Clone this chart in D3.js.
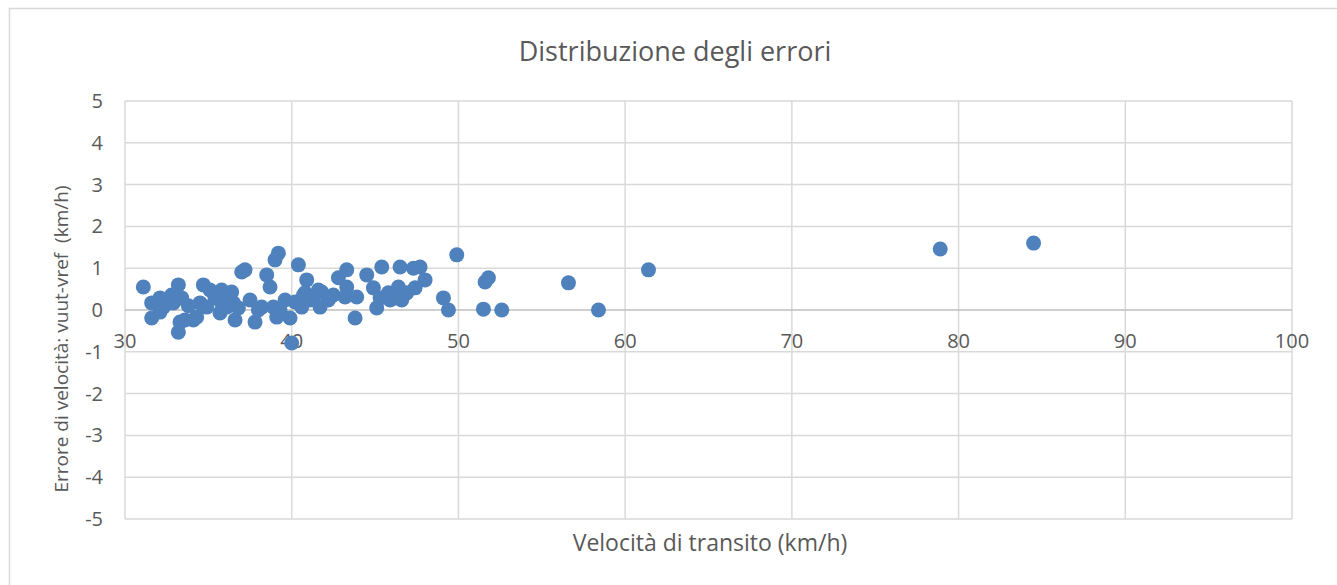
<!DOCTYPE html>
<html>
<head>
<meta charset="utf-8">
<script src="https://cdn.jsdelivr.net/npm/d3@7"></script>
<style>
  body { margin: 0; background: #fff; }
  text { font-family: "Open Sans", sans-serif; fill: #595959; }
</style>
</head>
<body>
<div id="chart"></div>
<script>
// speeds (km/h)
var speed = [31.1, 31.6, 31.6, 32.1, 32.1, 32.3, 32.6, 32.8, 32.9, 33.2, 33.4, 33.3, 33.2, 33.6, 34.1,
  34.3, 34.5, 34.7, 34.9, 35.1, 35.4, 35.7, 35.7, 35.8, 35.8, 36.2, 36.1, 36.5, 36.6, 37.0,
  37.2, 37.5, 37.8, 38.2, 38.5, 38.7, 39.0, 39.2, 38.9, 39.1, 39.3, 39.9, 40.0, 40.2, 40.4,
  40.7, 40.9, 40.8, 40.6, 41.3, 41.8, 41.7, 42.2, 42.8, 43.3, 43.3, 43.2, 43.9, 43.8, 44.5,
  44.9, 45.1, 45.4, 45.8, 45.9, 46.5, 47.3, 47.7, 48.0, 47.4, 46.9, 46.4, 46.0, 46.6, 46.2,
  49.1, 49.4, 49.9, 51.5, 51.6, 51.8, 52.6, 56.6, 58.4, 61.4, 78.9, 84.5,
  33.8, 36.4, 36.8, 38.0, 39.6, 41.1, 41.6, 42.5, 45.3];
// errors vuut - vref (km/h)
var error = [0.55, 0.17, -0.19, 0.29, -0.05, 0.07, 0.17, 0.36, 0.17, 0.60, 0.29, -0.29, -0.53, -0.24, -0.24,
  -0.17, 0.17, 0.60, 0.07, 0.48, 0.29, -0.07, 0.41, 0.17, 0.48, 0.31, 0.07, 0.17, -0.24, 0.91,
  0.96, 0.24, -0.29, 0.07, 0.84, 0.55, 1.20, 1.36, 0.07, -0.17, 0.00, -0.19, -0.79, 0.19, 1.08,
  0.36, 0.72, 0.41, 0.07, 0.29, 0.43, 0.07, 0.24, 0.77, 0.96, 0.55, 0.31, 0.31, -0.19, 0.84,
  0.53, 0.05, 1.03, 0.41, 0.24, 1.03, 1.00, 1.03, 0.72, 0.53, 0.41, 0.55, 0.36, 0.24, 0.29,
  0.29, 0.00, 1.32, 0.02, 0.67, 0.77, 0.00, 0.65, 0.00, 0.96, 1.46, 1.60,
  0.10, 0.43, 0.05, 0.00, 0.24, 0.24, 0.48, 0.36, 0.29];

var xTicks = [30, 40, 50, 60, 70, 80, 90, 100];
var yTicks = [5, 4, 3, 2, 1, 0, -1, -2, -3, -4, -5];

var svgWidth = 1337;
var svgHeight = 585;
var margin = { top: 101, right: 45, bottom: 66, left: 125 };
var width = svgWidth - margin.left - margin.right;
var height = svgHeight - margin.top - margin.bottom;

var svg = d3.select("#chart")
    .append("svg")
    .attr("width", svgWidth)
    .attr("height", svgHeight);

// chart border
svg.append("rect")
    .attr("x", 9.5).attr("y", 8.5)
    .attr("width", svgWidth).attr("height", svgHeight)
    .attr("fill", "none")
    .attr("stroke", "#d9d9d9")
    .attr("stroke-width", 1.5);

var chartGroup = svg.append("g")
    .attr("transform", `translate(${margin.left}, ${margin.top})`);

var xScale = d3.scaleLinear().domain([30, 100]).range([0, width]);
var yScale = d3.scaleLinear().domain([-5, 5]).range([height, 0]);

// gridlines
chartGroup.append("g")
    .selectAll("line")
    .data(xTicks)
    .enter()
    .append("line")
    .attr("x1", d => xScale(d)).attr("x2", d => xScale(d))
    .attr("y1", 0).attr("y2", height)
    .attr("stroke", "#d9d9d9")
    .attr("stroke-width", 1.5);

chartGroup.append("g")
    .selectAll("line")
    .data(yTicks)
    .enter()
    .append("line")
    .attr("x1", 0).attr("x2", width)
    .attr("y1", d => yScale(d)).attr("y2", d => yScale(d))
    .attr("stroke", d => d === 0 ? "#bfbfbf" : "#d9d9d9")
    .attr("stroke-width", 1.5);

// y tick labels
chartGroup.append("g")
    .selectAll("text")
    .data(yTicks)
    .enter()
    .append("text")
    .attr("x", -22)
    .attr("y", d => yScale(d))
    .attr("dy", "0.35em")
    .attr("text-anchor", "end")
    .attr("font-size", "20px")
    .text(d => d);

// x tick labels sit under the zero line
chartGroup.append("g")
    .selectAll("text")
    .data(xTicks)
    .enter()
    .append("text")
    .attr("x", d => xScale(d))
    .attr("y", yScale(0) + 38)
    .attr("text-anchor", "middle")
    .attr("font-size", "20px")
    .text(d => d);

// points
chartGroup.append("g")
    .selectAll("circle")
    .data(speed.map((s, i) => ({ s: s, e: error[i] })))
    .enter()
    .append("circle")
    .attr("cx", d => xScale(d.s))
    .attr("cy", d => yScale(d.e))
    .attr("r", 7.5)
    .attr("fill", "#4f81bd");

// title
svg.append("text")
    .attr("x", 675)
    .attr("y", 61)
    .attr("text-anchor", "middle")
    .attr("font-size", "27px")
    .text("Distribuzione degli errori");

// axis titles
svg.append("text")
    .attr("x", 710)
    .attr("y", 551)
    .attr("text-anchor", "middle")
    .attr("font-size", "23px")
    .text("Velocità di transito (km/h)");

svg.append("text")
    .attr("transform", "translate(68, 339) rotate(-90)")
    .attr("text-anchor", "middle")
    .attr("font-size", "19px")
    .style("white-space", "pre")
    .text("Errore di velocità: vuut-vref  (km/h)");
</script>
</body>
</html>
